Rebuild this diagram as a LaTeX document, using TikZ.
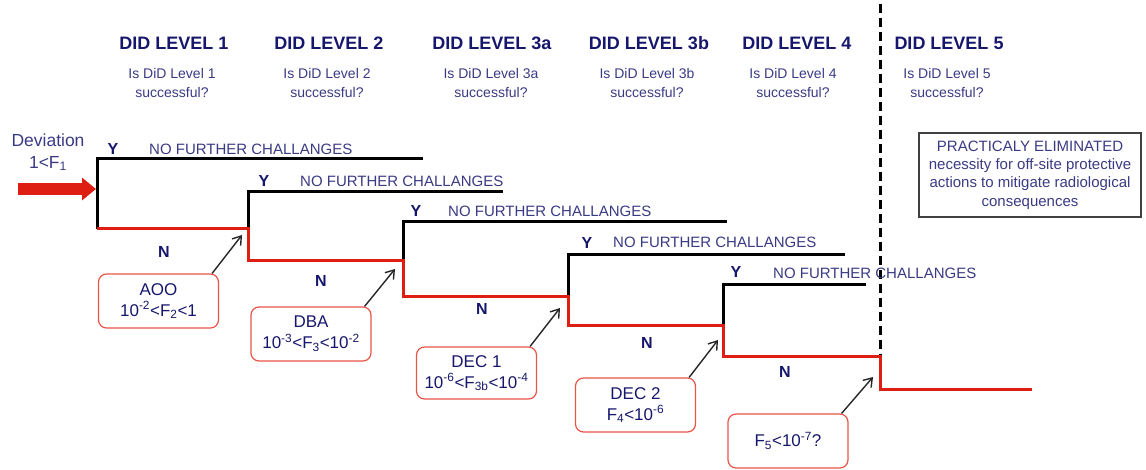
\documentclass[tikz,border=0pt]{standalone}
\usepackage{fontspec}
\setmainfont{Liberation Sans}
\usepackage{xcolor}
\usetikzlibrary{arrows.meta}

\definecolor{navy}{RGB}{22,22,108}
\definecolor{slate}{RGB}{58,58,132}
\definecolor{evred}{RGB}{222,30,18}
\definecolor{boxred}{RGB}{232,84,72}

\begin{document}
\begin{tikzpicture}[x=1pt,y=-1pt,
    level/.style={font=\fontsize{18}{20}\selectfont\bfseries, text=navy},
    quest/.style={font=\fontsize{14}{19}\selectfont, text=slate, align=center},
    yesline/.style={black, line width=3pt},
    noline/.style={evred, line width=3pt},
    yn/.style={font=\fontsize{16}{18}\selectfont\bfseries, text=navy},
    nfc/.style={font=\fontsize{15}{17}\selectfont, text=slate, anchor=west, inner sep=0pt},
    freq/.style={draw=boxred, line width=1.2pt, rounded corners=8pt,
        minimum width=120pt, minimum height=54pt, inner sep=0pt,
        font=\fontsize{17}{21}\selectfont, text=navy, align=center},
    ptr/.style={-{Straight Barb[length=8pt,width=11pt]}, line width=1.4pt, black!85}]
    \useasboundingbox (0,0) rectangle (1146,470);

    % Level headings
    \node[level] (h1) at (174,43) {DID LEVEL 1};
    \node[level] (h2) at (329,43) {DID LEVEL 2};
    \node[level] (h3a) at (492,43) {DID LEVEL 3a};
    \node[level] (h3b) at (649,43) {DID LEVEL 3b};
    \node[level] (h4) at (797,43) {DID LEVEL 4};
    \node[level] (h5) at (949,43) {DID LEVEL 5};
    \node[quest] (q1) at (172,83) {Is DiD Level 1\\successful?};
    \node[quest] (q2) at (327,83) {Is DiD Level 2\\successful?};
    \node[quest] (q3a) at (491,83) {Is DiD Level 3a\\successful?};
    \node[quest] (q3b) at (647,83) {Is DiD Level 3b\\successful?};
    \node[quest] (q4) at (793,83) {Is DiD Level 4\\successful?};
    \node[quest] (q5) at (947,83) {Is DiD Level 5\\successful?};

    % Branch points
    \coordinate (t1) at (97,159);  \coordinate (e1) at (423,159);  \coordinate (s1) at (97,229);
    \coordinate (t2) at (248,192); \coordinate (e2) at (503,192);
    \coordinate (j2) at (248,229); \coordinate (s2) at (248,261);
    \coordinate (t3) at (403,222); \coordinate (e3) at (727,222);
    \coordinate (j3) at (403,261); \coordinate (s3) at (403,297);
    \coordinate (t4) at (568,255); \coordinate (e4) at (845,255);
    \coordinate (j4) at (568,297); \coordinate (s4) at (568,326);
    \coordinate (t5) at (723,285); \coordinate (e5) at (866,285);
    \coordinate (j5) at (723,326); \coordinate (s5) at (723,356);
    \coordinate (j6) at (880,356); \coordinate (s6) at (880,389); \coordinate (e6) at (1032,389);
    \coordinate (cut) at (880,4);

    % Deviation
    \node[font=\fontsize{17.5}{22}\selectfont, text=slate, align=center] (dev) at (48,152) {Deviation\\1<F\textsubscript{1}};
    \coordinate (devin) at (18,189);
    \coordinate (d1) at (96,189);
    \draw[evred, line width=12pt, -{Triangle[length=14pt,width=22pt]}] (devin) -- (d1);

    % Level 5 boundary
    \draw[line width=3pt, dash pattern=on 9pt off 5pt] (cut) -- (j6);

    % Success branches
    \draw[yesline] (e1) -- (t1) -- (s1);
    \draw[yesline] (e2) -- (t2) -- (j2);
    \draw[yesline] (e3) -- (t3) -- (j3);
    \draw[yesline] (e4) -- (t4) -- (j4);
    \draw[yesline] (e5) -- (t5) -- (j5);
    % Failure path
    \draw[noline] (s1) -- (j2) -- (s2) -- (j3) -- (s3) -- (j4) -- (s4)
        -- (j5) -- (s5) -- (j6) -- (s6) -- (e6);

    % Y / N labels
    \node[yn] (y1) at (113,149) {Y};
    \node[yn] (y2) at (264,181) {Y};
    \node[yn] (y3) at (416,211) {Y};
    \node[yn] (y4) at (587,243) {Y};
    \node[yn] (y5) at (736,272) {Y};
    \node[nfc] (c1) at (149,149) {NO FURTHER CHALLANGES};
    \node[nfc] (c2) at (300,181) {NO FURTHER CHALLANGES};
    \node[nfc] (c3) at (448,211) {NO FURTHER CHALLANGES};
    \node[nfc] (c4) at (613,242) {NO FURTHER CHALLANGES};
    \node[nfc] (c5) at (773,273) {NO FURTHER CHALLANGES};
    \node[yn] (n1) at (164,252) {N};
    \node[yn] (n2) at (321,281) {N};
    \node[yn] (n3) at (482,309) {N};
    \node[yn] (n4) at (647,343) {N};
    \node[yn] (n5) at (785,372) {N};

    % Frequency boxes
    \node[freq] (aoo) at (158.5,301) {AOO\\10\textsuperscript{-2}<F\textsubscript{2}<1};
    \node[freq] (dba) at (311,334) {DBA\\10\textsuperscript{-3}<F\textsubscript{3}<10\textsuperscript{-2}};
    \node[freq, minimum height=52pt] (dec1) at (476.5,373) {DEC 1\\10\textsuperscript{-6}<F\textsubscript{3b}<10\textsuperscript{-4}};
    \node[freq] (dec2) at (635.5,405) {DEC 2\\F\textsubscript{4}<10\textsuperscript{-6}};
    \node[freq] (f5) at (788,441) {F\textsubscript{5}<10\textsuperscript{-7}?};
    \draw[ptr] ([xshift=-7pt]aoo.north east) -- ([shift={(-6,6)}]j2);
    \draw[ptr] ([xshift=-7pt]dba.north east) -- ([shift={(-8,8)}]j3);
    \draw[ptr] ([xshift=-7pt]dec1.north east) -- ([shift={(-8,11)}]j4);
    \draw[ptr] ([xshift=-7pt]dec2.north east) -- ([shift={(-5,14)}]j5);
    \draw[ptr] ([xshift=-7pt]f5.north east) -- ([shift={(-7,21)}]j6);

    % Outcome
    \node[draw=black!75, line width=1.3pt, minimum width=222pt, minimum height=84pt,
        font=\fontsize{15}{18.3}\selectfont, text=slate, align=center] (elim) at (1030,175)
        {PRACTICALY ELIMINATED\\necessity for off-site protective\\actions to mitigate radiological\\consequences};
\end{tikzpicture}
\end{document}
